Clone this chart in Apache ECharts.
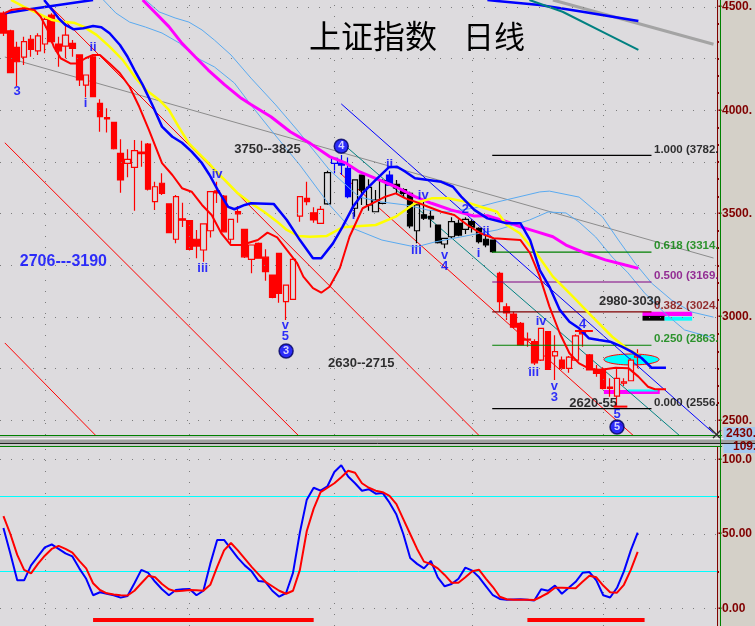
<!DOCTYPE html>
<html><head><meta charset="utf-8">
<script src="https://cdn.jsdelivr.net/npm/echarts@6/dist/echarts.min.js"></script>
<style>html,body{margin:0;padding:0;background:#d4d0c8;overflow:hidden}#c{width:755px;height:626px}</style>
</head><body><div id="c"></div>
<script>
// ---------------- DATA ----------------
const N = 104; // category slots on the date axis
const ohlc = [ // [open, close, low, high]
[4471,4374,4360,4480],[4385,4182,4180,4390],[4305,4235,4118,4332],[4257,4332,4219,4356],[4344,4295,4259,4364],
[4288,4360,4268,4373],[4321,4440,4276,4453],[4461,4332,4324,4470],[4321,4288,4211,4356],[4311,4364,4252,4424],
[4324,4300,4259,4340],[4268,4147,4118,4268],[4122,4171,4063,4171],[4259,4066,4063,4268],[4034,3969,3896,4053],
[3965,3958,3892,4010],[3942,3814,3810,3942],[3792,3663,3601,3860],[3743,3763,3676,3811],[3724,3805,3514,3856],
[3798,3790,3727,3853],[3837,3618,3612,3842],[3558,3630,3517,3654],[3647,3598,3590,3695],[3547,3408,3408,3547],
[3376,3582,3356,3590],[3475,3468,3435,3553],[3466,3327,3322,3466],[3376,3343,3284,3421],[3324,3450,3267,3450],
[3417,3606,3385,3606],[3610,3600,3551,3654],[3585,3412,3408,3590],[3376,3472,3356,3472],[3510,3499,3456,3537],
[3424,3291,3285,3424],[3279,3348,3211,3348],[3356,3284,3284,3360],[3289,3219,3175,3327],[3203,3095,3090,3203],
[3308,3114,3069,3308],[3074,3154,2985,3154],[3085,3279,3085,3284],[3488,3582,3461,3585],[3574,3558,3541,3654],
[3504,3469,3456,3531],[3453,3521,3453,3537],[3547,3698,3543,3707],[3743,3767,3695,3767],[3745,3735,3687,3784],
[3719,3582,3574,3772],[3526,3663,3485,3663],[3687,3614,3542,3687],[3542,3627,3514,3666],[3509,3566,3509,3614],
[3550,3659,3545,3666],[3687,3638,3638,3707],[3642,3625,3598,3663],[3616,3598,3582,3623],[3598,3440,3429,3606],
[3417,3542,3356,3550],[3494,3478,3469,3558],[3487,3475,3433,3517],[3445,3359,3355,3445],[3353,3380,3332,3380],
[3388,3461,3380,3482],[3453,3396,3391,3472],[3424,3472,3401,3482],[3461,3434,3408,3472],[3429,3364,3355,3434],
[3376,3348,3337,3396],[3372,3316,3310,3372],[3211,3074,3025,3219],[3049,3020,2985,3066],[3014,2950,2945,3025],
[2969,2864,2864,2976],[2893,2888,2856,2924],[2880,2778,2767,2892],[2791,2945,2787,2945],[2929,2746,2746,2929],
[2811,2832,2695,2911],[2791,2751,2743,2808],[2751,2805,2730,2811],[2791,2908,2787,2916],[2925,2918,2856,2937],
[2816,2743,2743,2821],[2746,2727,2711,2767],[2746,2654,2649,2757],[2660,2654,2614,2703],[2617,2703,2565,2756],
[2679,2686,2666,2703],[2691,2791,2691,2800],[2805,2812,2751,2843]
];
const blackRange = [47, 71];
const blueCandles = [48, 49, 50, 56];

// moving averages: [slot, price]
const redMA = [[0.2,4470],[1.1,4485],[3.0,4494],[4.5,4485],[5.4,4453],[6.4,4389],[7.3,4308],[8.3,4252],[9.7,4227],[10.7,4227],[11.9,4252],[13.0,4268],[14.0,4268],[15.4,4227],[16.9,4179],[18.3,4114],[19.7,4017],[21.1,3905],[23.0,3744],[24.5,3687],[25.9,3623],[27.3,3606],[28.8,3542],[30.2,3493],[31.6,3405],[33.0,3348],[34.5,3348],[36.9,3372],[38.3,3408],[39.7,3385],[41.1,3324],[42.6,3260],[43.5,3195],[44.9,3139],[46.1,3117],[47.3,3146],[48.8,3237],[50.2,3388],[52.1,3526],[54.0,3558],[55.4,3582],[56.9,3598],[58.3,3574],[59.7,3558],[61.6,3533],[63.5,3509],[65.4,3493],[67.3,3445],[69.2,3405],[71.1,3381],[75.0,3372],[76.4,3308],[77.8,3195],[79.2,3050],[80.7,2921],[82.1,2824],[83.5,2775],[84.9,2751],[86.4,2743],[88.8,2754],[90.7,2751],[92.1,2711],[93.5,2662],[94.5,2650],[96.1,2650]];
const blueMA = [[5.9,4534],[7.1,4485],[8.0,4445],[9.0,4413],[10.2,4392],[11.6,4397],[13.0,4408],[14.2,4402],[15.4,4373],[16.9,4316],[18.0,4259],[19.0,4195],[20.2,4123],[21.6,4026],[23.0,3921],[24.5,3872],[25.9,3843],[27.3,3800],[28.8,3744],[29.9,3687],[31.1,3614],[32.6,3533],[33.5,3521],[35.0,3542],[35.9,3550],[39.2,3547],[41.1,3469],[43.0,3372],[44.9,3284],[46.1,3284],[47.8,3356],[49.2,3437],[50.7,3533],[52.3,3606],[54.0,3663],[55.9,3724],[57.1,3727],[58.3,3703],[59.7,3671],[61.6,3663],[63.5,3654],[65.2,3630],[66.4,3582],[68.3,3518],[70.2,3477],[73.0,3453],[75.0,3453],[76.4,3372],[77.8,3227],[79.2,3146],[80.7,3034],[82.1,2977],[83.5,2945],[84.9,2897],[86.4,2888],[88.0,2880],[89.7,2856],[91.1,2832],[92.6,2800],[94.0,2754],[96.1,2754]];
const yellowMA = [[1.1,4534],[3.0,4501],[4.9,4470],[7.1,4437],[8.5,4429],[10.2,4424],[11.6,4405],[13.5,4365],[15.4,4308],[17.3,4244],[19.2,4155],[20.7,4098],[22.6,4050],[24.0,4002],[25.4,3921],[26.9,3840],[28.3,3793],[29.9,3740],[31.1,3695],[32.1,3663],[34.0,3598],[35.9,3550],[37.8,3509],[39.7,3461],[41.1,3421],[42.8,3392],[44.5,3388],[46.9,3392],[49.2,3434],[50.2,3437],[54.0,3445],[56.9,3485],[59.7,3550],[62.1,3574],[64.5,3574],[66.9,3558],[69.2,3533],[71.6,3509],[73.0,3445],[74.9,3405],[77.3,3308],[79.7,3195],[82.6,3098],[85.4,3001],[88.3,2904],[90.7,2840],[92.1,2816]];
const magentaMA = [[20.2,4534],[22.1,4470],[24.0,4405],[25.9,4324],[27.8,4259],[29.7,4195],[32.1,4123],[34.5,4058],[35.9,4028],[38.8,3969],[41.6,3896],[44.5,3840],[47.3,3776],[49.7,3744],[51.6,3703],[54.5,3663],[56.9,3630],[59.7,3582],[62.1,3550],[64.9,3518],[68.3,3488],[70.2,3490],[73.0,3461],[74.9,3437],[77.3,3413],[79.7,3388],[81.6,3348],[84.5,3308],[87.3,3276],[90.2,3251],[92.1,3235]];
const lowerBand = [[14.5,4534],[16.3,4471],[18.3,4427],[20.6,4403],[23.0,4374],[25.5,4326],[27.8,4258],[30.6,4210],[33.5,4132],[35.9,4026],[38.8,3905],[43.0,3735],[47.3,3542],[50.2,3435],[54.9,3372],[59.8,3338],[62.6,3363],[66.3,3387],[71.6,3421],[76.3,3469],[79.0,3508],[81.6,3503],[83.5,3459],[85.9,3387],[88.3,3290],[90.6,3213],[93.0,3116],[95.9,3019],[98.8,2937],[103.0,2898]];
const upperBand = [[20.6,4534],[22.6,4476],[24.9,4447],[26.9,4427],[28.8,4389],[30.6,4340],[33.0,4268],[35.9,4156],[39.5,4026],[42.6,3905],[47.3,3711],[51.6,3580],[54.9,3556],[58.3,3542],[61.6,3517],[64.5,3508],[68.3,3527],[71.6,3556],[77.8,3605],[79.2,3609],[83.5,3580],[86.9,3484],[89.2,3372],[91.6,3261],[94.0,3164],[96.9,3082],[99.8,3024],[103.0,2999]];
const longBlueA = [[0.2,4470],[3.8,4489],[7.0,4505],[13.0,4534]];
const longBlueB = [[70.2,4534],[71.6,4529],[77.8,4510],[84.0,4477],[92.1,4432]];
const longTeal = [[76.3,4534],[81.1,4477],[86.9,4380],[92.1,4292]];

// trend lines: [slot, price] endpoints
const grayThick = [[79.7,4534],[103.0,4320]];
const grayThin = [[0.2,4258],[103.0,3285]];
const redLineA = [[0.2,3843],[43.0,2419]];
const redLineB = [[5.9,4534],[69.2,2419]];
const redLineC = [[48.8,3697],[91.6,2419]];
const redLineD = [[0.2,2874],[13.6,2419]];
const blueThin = [[49.0,4031],[103.0,2438]];
const tealThin = [[49.8,3822],[98.3,2419]];

// Fibonacci retracement
const fibLevels = ['1.000','0.618','0.500','0.382','0.250','0.000'];
const fibPrices = [3782, 3314, 3169, 3024, 2863, 2556];
const fibSpan = [70.9, 94.0];

// stochastic (K blue, D red) per candle slot
const kVals = [54,37,19,19,29,35,41,43,40,37,35,27,20,9,11,10,9,7.4,8.5,17,26,24,18,13,9,12.5,13,13.2,9,12,30,46,46,40,34,29,25,18.5,18,12,8,10.5,24,51,73,81,79,82,91.5,96,88.5,84,79,80,77,77.5,71,63,50,34,30,27,32,21,15,16.5,20,27.5,25.5,21,15,9,6.5,6,6.2,6.3,6,5.5,13,12,15.5,10,14,18,24,24.5,19,9,7.5,14,25,39,51];
const dVals = [62,50,36,26,23.7,30,35.5,40,42,40,37.5,32,27,17,12.5,10.3,9.5,9,8.8,12,17,22,21,16.5,13,11.6,12,12.5,12.3,12,16,28,39,44,39,33.5,28,23,18,15,12,10,12,26,52,67,78,81,84,88,92.4,91,84,81,79,78,75.5,70,60,50,40,31.5,29.8,27,22.6,17.4,17.4,21,25,26,20,14.5,8,6.3,6,6,6,5.8,8,10.5,14,14,13.8,13.7,18,22,21,15.5,11,10.7,16,26,38];
const stochLevels = [25, 75];
const redBars = [[13,45],[76,93]];
const redBarValue = -7.6;

// axis ticks
const priceTicks = [2500,3000,3500,4000,4500];
const priceMinor = [2583,2667,2750,2833,2917,3083,3167,3250,3333,3417,3583,3667,3750,3833,3917,4083,4167,4250,4333,4417];
const gridPrices = [2500,2750,3000,3250,3500,3750,4000,4250,4500];
const monthSlots = [6,27,48,68,87];
const stochTicks = [0,50,100];
const stochTickText = ['0.00','50.00','100.0'];

// annotations: [slot, price, text]
const waveLabels = [[1.97,4091,'3'],[11.9,4031,'i'],[13.0,4304,'ii'],[31.0,3692,'iv'],[28.9,3237,'iii'],[40.9,2961,'v'],[40.9,2908,'5'],[50.8,3491,'i'],[56.0,3740,'ii'],[59.9,3324,'iii'],[60.9,3588,'iv'],[64.0,3297,'v'],[64.0,3246,'4'],[67.0,3520,'2'],[70.0,3416,'ii'],[68.9,3306,'i'],[78.0,2977,'iv'],[76.9,2729,'iii'],[79.9,2662,'v'],[79.9,2608,'3'],[84.0,2966,'4'],[89.0,2530,'5']];
const waveCircles = [[49.0,3826,'4'],[41.0,2835,'3'],[89.0,2467,'5']];
const rangeTexts = [[33.4,3813,'3750--3825'],[47.0,2777,'2630--2715'],[86.3,3074,'2980-3030'],[82.0,2581,'2620-55']];
const blueRangeTexts = [[2.3,3266,'2706---3190']];

// ---------------- CHART ----------------
const BG = '#dddbde';
const FONT = 'Liberation Sans, Arial, sans-serif';
const chart = echarts.init(document.getElementById('c'), null, {renderer:'canvas', width:755, height:626});

const candleData = ohlc.map((v, i) => {
  let c = '#ff0000';
  if (blueCandles.includes(i)) c = '#0000ff';
  else if (i >= blackRange[0] && i <= blackRange[1]) c = '#000000';
  const fill = v[1] < v[0] ? c : BG;   // falling: solid, rising: hollow
  return {value: v, itemStyle: {color: fill, color0: fill, borderColor: c, borderColor0: c, borderWidth: 1.2}};
});

function ln(data, color, width, z, xi, yi) {
  return {type:'line', xAxisIndex: xi === undefined ? 1 : xi, yAxisIndex: yi === undefined ? 0 : yi,
    data, symbol:'none', showSymbol:false, smooth:false, silent:true, clip:true,
    lineStyle:{color, width}, z: z || 4, animation:false};
}
function labelPts(arr, label, extra) {
  return Object.assign({type:'scatter', xAxisIndex:1, yAxisIndex:0, silent:true, animation:false, z:8,
    symbolSize:1, itemStyle:{color:'rgba(0,0,0,0)'},
    data: arr.map(a => ({value:[a[0], a[1]], name:a[2]})),
    label: Object.assign({show:true, formatter:'{b}', fontFamily:FONT, fontWeight:'bold'}, label)}, extra || {});
}

const dotted = {color:'#7c7c7c', type:[1,10], width:1};
const series = [
  {type:'line', xAxisIndex:1, yAxisIndex:0, data:[], z:1, silent:true,
   markLine:{silent:true, animation:false, symbol:['none','none'], label:{show:false}, lineStyle:dotted,
     data: gridPrices.map(v => ({yAxis:v})).concat(monthSlots.map(v => ({xAxis:v})))}},
  ln(grayThin, '#8c8c8c', 1, 2),
  ln(redLineA, '#ff0000', 1, 2), ln(redLineB, '#ff0000', 1, 2), ln(redLineC, '#ff0000', 1, 2), ln(redLineD, '#ff0000', 1, 2),
  ln(blueThin, '#0000ff', 1, 2), ln(tealThin, '#008080', 1, 2),
  {type:'candlestick', xAxisIndex:0, yAxisIndex:0, data:candleData, barWidth:6, z:3, silent:true, animation:false},
  ln(lowerBand, '#5aaaf0', 1, 4), ln(upperBand, '#5aaaf0', 1, 4),
  ln(grayThick, '#a4a4a4', 3, 4),
  ln(longBlueA, '#0000ff', 2.5, 4), ln(longBlueB, '#0000ff', 2.5, 4), ln(longTeal, '#008080', 2, 4),
  ln(magentaMA, '#ff00ff', 3, 5), ln(yellowMA, '#ffff00', 2.5, 5), ln(blueMA, '#0000ff', 2.5, 6), ln(redMA, '#ff0000', 2, 6)
];
const fibColors = ['#000000','#008000','#800080','#800000','#008000','#000000'];
fibPrices.forEach((p, k) => {
  series.push(ln([[fibSpan[0], p],[fibSpan[1], p]], fibColors[k], 1.2, 4));
  series.push(labelPts([[fibSpan[1], p, fibLevels[k] + ' (' + p + '.']],
    {position:'right', distance:2, verticalAlign:'bottom', fontSize:11.5, color:fibColors[k]}));
});
series.push(labelPts(waveLabels, {position:'inside', fontSize:13, color:'#0000ff'}));
series.push(labelPts(rangeTexts, {position:'right', distance:0, fontSize:13, color:'#000000'}));
series.push(labelPts(blueRangeTexts, {position:'right', distance:0, fontSize:16, color:'#0000ff'}));
series.push(Object.assign(labelPts(waveCircles, {position:'inside', fontSize:11, color:'#ffffff'}),
  {symbol:'circle', symbolSize:14, itemStyle:{color:'#0000ff', borderColor:'#000060', borderWidth:1.5}}));

// lower panel
series.push({type:'line', xAxisIndex:2, yAxisIndex:1, data:[], z:1, silent:true,
  markLine:{silent:true, animation:false, symbol:['none','none'], label:{show:false}, lineStyle:dotted,
    data: stochTicks.map(v => ({yAxis:v})).concat(monthSlots.map(v => ({xAxis:v})))
      .concat(stochLevels.map(v => ({yAxis:v, lineStyle:{color:'#00ffff', type:'solid', width:1}})))}});
series.push(ln(kVals.map((v,i)=>[i,v]), '#0000ff', 2, 5, 2, 1));
series.push(ln(dVals.map((v,i)=>[i,v]), '#ff0000', 2, 5, 2, 1));
redBars.forEach(b => series.push(ln([[b[0], redBarValue],[b[1], redBarValue]], '#ff0000', 4, 5, 2, 1)));

const axisRed = '#800000';
chart.setOption({
  animation:false,
  backgroundColor:'#d4d0c8',
  grid:[
    {left:-4.8, top:0, width:728, height:435, show:true, backgroundColor:BG, borderWidth:0, containLabel:false},
    {left:-4.8, top:446.5, width:728, height:179.5, show:true, backgroundColor:BG, borderWidth:0, containLabel:false}
  ],
  xAxis:[
    {type:'category', gridIndex:0, data:Array.from({length:N}, (_, i) => i), show:false, boundaryGap:true},
    {type:'value', gridIndex:0, min:-0.5, max:N-0.5, show:false},
    {type:'value', gridIndex:1, min:-0.5, max:N-0.5, show:false}
  ],
  yAxis:[
    {type:'value', gridIndex:0, position:'right', min:2428.5, max:4533.9, splitLine:{show:false},
     axisLine:{show:true, onZero:false, lineStyle:{color:axisRed, width:1}},
     axisTick:{show:true, customValues:priceMinor, length:2, lineStyle:{color:axisRed, width:2}},
     axisLabel:{customValues:priceTicks, formatter:v => '-' + v + '.', color:axisRed, fontFamily:FONT, fontWeight:'bold', fontSize:12, margin:1}},
    {type:'value', gridIndex:1, position:'right', min:-11.6, max:108.6, splitLine:{show:false},
     axisLine:{show:true, onZero:false, lineStyle:{color:axisRed, width:1}},
     axisTick:{show:true, customValues:stochLevels, length:2, lineStyle:{color:axisRed, width:2}},
     axisLabel:{customValues:stochTicks, formatter:v => '-' + stochTickText[stochTicks.indexOf(v)], color:axisRed, fontFamily:FONT, fontWeight:'bold', fontSize:12, margin:1}}
  ],
  series
});

// decorations anchored to data coordinates
const px = (i, p) => chart.convertToPixel({xAxisIndex:1, yAxisIndex:0}, [i, p]);
function box(x0, x1, p0, p1, fill) {
  const a = px(x0, p1), b = px(x1, p0);
  return {type:'rect', z:1, silent:true, shape:{x:a[0], y:a[1], width:b[0]-a[0], height:b[1]-a[1]}, style:{fill}};
}
function seg(x0, x1, p, color, w) {
  const a = px(x0, p), b = px(x1, p);
  return {type:'line', z:10, silent:true, shape:{x1:a[0], y1:a[1], x2:b[0], y2:b[1]}, style:{stroke:color, lineWidth:w}};
}
const eL = px(87.1, 2794), eR = px(95.1, 2794), eT = px(91.1, 2820.6);
const g = [
  {type:'ellipse', z:1, silent:true, shape:{cx:(eL[0]+eR[0])/2, cy:eL[1], rx:(eR[0]-eL[0])/2, ry:eL[1]-eT[1]}, style:{fill:'#00ffff', stroke:'#ff0000', lineWidth:1}},
  box(92.7, 99.9, 3005, 3025, '#ff00ff'),
  box(92.7, 95.9, 2982, 3005, '#000000'),
  box(95.9, 99.9, 2982, 3001, '#00ffff'),
  box(87.1, 95.2, 2627, 2646, '#ff00ff'),
  box(90.6, 94.9, 2639, 2649, '#00ffff'),
  seg(82.9, 85.5, 2932, '#ff0000', 2),
  seg(88.5, 90.5, 2566, '#ff0000', 2),
  // title
  {type:'text', z:20, silent:true, x:309, y:36, style:{text:'上证指数', fontFamily:'Noto Sans CJK SC', fontSize:32, fill:'#000', verticalAlign:'middle'}},
  {type:'text', z:20, silent:true, x:463, y:36, style:{text:'日线', fontFamily:'Noto Sans CJK SC', fontSize:31, fill:'#000', verticalAlign:'middle'}},
  // frame & panel separator
  {type:'rect', z:30, silent:true, shape:{x:0, y:435, width:723, height:12}, style:{fill:'#c8c8c8'}},
  {type:'line', z:31, silent:true, shape:{x1:0, y1:435.5, x2:722, y2:435.5}, style:{stroke:'#008000', lineWidth:1}},
  {type:'line', z:31, silent:true, shape:{x1:0, y1:438.5, x2:755, y2:438.5}, style:{stroke:'#f4f4f4', lineWidth:1}},
  {type:'rect', z:31, silent:true, shape:{x:0, y:440, width:755, height:3}, style:{fill:'#a0a0a0'}},
  {type:'line', z:31, silent:true, shape:{x1:0, y1:443.5, x2:755, y2:443.5}, style:{stroke:'#202020', lineWidth:1}},
  {type:'line', z:31, silent:true, shape:{x1:0, y1:446.5, x2:722, y2:446.5}, style:{stroke:'#008000', lineWidth:1}},
  {type:'line', z:31, silent:true, shape:{x1:720.5, y1:0, x2:720.5, y2:626}, style:{stroke:'#008000', lineWidth:1}},
  // price marker boxes
  {type:'rect', z:32, silent:true, shape:{x:723.5, y:427, width:32, height:13}, style:{fill:'#a6caf0'}},
  {type:'text', z:33, silent:true, x:726, y:434, style:{text:'2430.', fontFamily:FONT, fontWeight:'bold', fontSize:12, fill:axisRed, verticalAlign:'middle'}},
  {type:'rect', z:32, silent:true, shape:{x:723.5, y:444, width:32, height:9}, style:{fill:'#a6caf0'}},
  {type:'text', z:33, silent:true, x:733, y:447, style:{text:'109.', fontFamily:FONT, fontWeight:'bold', fontSize:12, fill:axisRed, verticalAlign:'middle'}},
  {type:'line', z:33, silent:true, shape:{x1:709, y1:427, x2:720, y2:438}, style:{stroke:'#303030', lineWidth:1.5}},
  {type:'line', z:33, silent:true, shape:{x1:713, y1:438, x2:721, y2:430}, style:{stroke:'#303030', lineWidth:1.5}}
];
chart.setOption({graphic:{elements:g}});
</script></body></html>
